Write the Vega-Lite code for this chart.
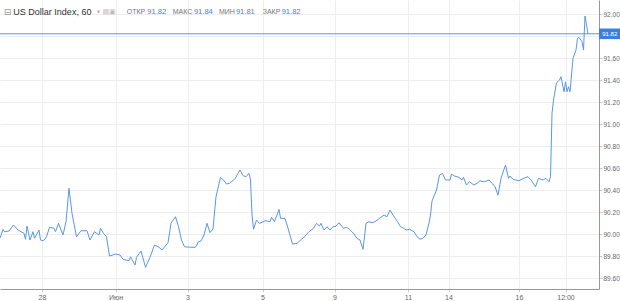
{
  "$schema": "https://vega.github.io/schema/vega-lite/v6.json",
  "width": 599,
  "height": 289,
  "padding": {"left": 0, "top": 0, "right": 21, "bottom": 12},
  "autosize": {"type": "none"},
  "background": "white",
  "config": {
    "view": {"stroke": null},
    "font": "Liberation Sans",
    "axis": {"grid": true, "gridColor": "#eeeeee", "domainColor": "#999999", "tickColor": "#cccccc", "tickSize": 3, "labelColor": "#666666", "labelOverlap": false, "labelBound": false},
    "axisX": {"labelFontSize": 7, "labelPadding": 1},
    "axisY": {"labelFontSize": 6.5, "labelPadding": 1}
  },
  "layer": [
    {
      "data": {"values": [
    {"i":0,"v":89.961},{"i":2,"v":90.042},{"i":3,"v":90.021},{"i":6,"v":90.027},{"i":9,"v":90.082},{"i":12,"v":90.036},{"i":16,"v":90.006},{"i":17,"v":89.952},{"i":18,"v":90.072},{"i":20,"v":89.945},{"i":22,"v":90.021},{"i":23,"v":89.961},{"i":26,"v":90.036},{"i":27,"v":89.945},{"i":29,"v":89.939},{"i":31,"v":89.975},{"i":33,"v":90.061},{"i":36,"v":90.052},{"i":37,"v":90.021},{"i":39,"v":90.097},{"i":42,"v":89.991},{"i":44,"v":90.112},{"i":46,"v":90.415},{"i":48,"v":90.188},{"i":51,"v":89.975},{"i":54,"v":90.03},{"i":58,"v":90.03},{"i":60,"v":89.945},{"i":63,"v":90.021},{"i":66,"v":89.991},{"i":67,"v":90.052},{"i":69,"v":90.006},{"i":71,"v":89.975},{"i":73,"v":89.8},{"i":77,"v":89.818},{"i":80,"v":89.809},{"i":82,"v":89.77},{"i":86,"v":89.757},{"i":87,"v":89.793},{"i":90,"v":89.718},{"i":91,"v":89.788},{"i":94,"v":89.845},{"i":97,"v":89.697},{"i":100,"v":89.788},{"i":103,"v":89.9},{"i":106,"v":89.879},{"i":108,"v":89.854},{"i":112,"v":89.921},{"i":114,"v":90.097},{"i":117,"v":90.157},{"i":119,"v":90.066},{"i":121,"v":89.945},{"i":123,"v":89.884},{"i":127,"v":89.879},{"i":130,"v":89.879},{"i":131,"v":89.891},{"i":132,"v":89.927},{"i":134,"v":89.936},{"i":136,"v":89.991},{"i":138,"v":90.097},{"i":140,"v":90.012},{"i":142,"v":90.045},{"i":144,"v":90.339},{"i":147,"v":90.515},{"i":149,"v":90.491},{"i":151,"v":90.454},{"i":153,"v":90.461},{"i":157,"v":90.506},{"i":158,"v":90.536},{"i":160,"v":90.582},{"i":162,"v":90.53},{"i":164,"v":90.521},{"i":166,"v":90.552},{"i":167,"v":90.491},{"i":168,"v":90.173},{"i":169,"v":90.043},{"i":171,"v":90.127},{"i":173,"v":90.097},{"i":177,"v":90.121},{"i":180,"v":90.112},{"i":181,"v":90.152},{"i":183,"v":90.112},{"i":186,"v":90.224},{"i":187,"v":90.142},{"i":190,"v":90.142},{"i":192,"v":90.052},{"i":195,"v":89.909},{"i":198,"v":89.915},{"i":201,"v":89.952},{"i":202,"v":89.961},{"i":204,"v":89.991},{"i":206,"v":90.021},{"i":209,"v":90.052},{"i":211,"v":90.097},{"i":213,"v":90.072},{"i":214,"v":90.097},{"i":216,"v":90.036},{"i":218,"v":90.066},{"i":220,"v":90.036},{"i":222,"v":90.066},{"i":224,"v":90.072},{"i":226,"v":90.102},{"i":229,"v":90.052},{"i":231,"v":90.061},{"i":233,"v":90.043},{"i":236,"v":90.0},{"i":238,"v":89.961},{"i":240,"v":89.945},{"i":242,"v":89.861},{"i":243,"v":89.975},{"i":244,"v":90.097},{"i":246,"v":90.112},{"i":248,"v":90.102},{"i":250,"v":90.112},{"i":253,"v":90.142},{"i":256,"v":90.172},{"i":258,"v":90.157},{"i":260,"v":90.218},{"i":262,"v":90.172},{"i":265,"v":90.112},{"i":267,"v":90.066},{"i":269,"v":90.052},{"i":271,"v":90.036},{"i":273,"v":90.043},{"i":276,"v":90.021},{"i":278,"v":89.975},{"i":280,"v":89.952},{"i":282,"v":89.961},{"i":284,"v":89.991},{"i":286,"v":90.1},{"i":287,"v":90.172},{"i":288,"v":90.3},{"i":291,"v":90.4},{"i":293,"v":90.536},{"i":295,"v":90.55},{"i":297,"v":90.491},{"i":300,"v":90.491},{"i":301,"v":90.545},{"i":303,"v":90.527},{"i":306,"v":90.515},{"i":308,"v":90.491},{"i":309,"v":90.515},{"i":311,"v":90.445},{"i":313,"v":90.475},{"i":316,"v":90.445},{"i":318,"v":90.461},{"i":320,"v":90.484},{"i":323,"v":90.475},{"i":326,"v":90.491},{"i":328,"v":90.461},{"i":330,"v":90.43},{"i":332,"v":90.354},{"i":334,"v":90.506},{"i":337,"v":90.627},{"i":339,"v":90.506},{"i":340,"v":90.527},{"i":342,"v":90.497},{"i":346,"v":90.484},{"i":349,"v":90.506},{"i":352,"v":90.521},{"i":354,"v":90.491},{"i":357,"v":90.43},{"i":359,"v":90.506},{"i":362,"v":90.491},{"i":364,"v":90.506},{"i":366,"v":90.475},{"i":367,"v":90.521},{"i":368,"v":91.097},{"i":369,"v":91.218},{"i":371,"v":91.375},{"i":373,"v":91.4},{"i":374,"v":91.43},{"i":376,"v":91.293},{"i":377,"v":91.384},{"i":378,"v":91.293},{"i":379,"v":91.339},{"i":380,"v":91.293},{"i":382,"v":91.597},{"i":384,"v":91.672},{"i":385,"v":91.779},{"i":386,"v":91.788},{"i":388,"v":91.748},{"i":389,"v":91.672},{"i":390,"v":91.982},{"i":392,"v":91.82}
      ]},
      "mark": {"type": "line", "color": "#5b95e8", "strokeWidth": 1, "clip": false},
      "encoding": {
        "x": {"field": "i", "type": "quantitative", "scale": {"domain": [0, 399.33], "nice": false, "zero": false},
          "axis": {"title": null, "tickCount": 20, "values": [28, 77, 125, 175, 223, 272, 299, 346, 377],
            "labelExpr": "datum.value == 28 ? '28' : datum.value == 77 ? 'Июн' : datum.value == 125 ? '3' : datum.value == 175 ? '5' : datum.value == 223 ? '9' : datum.value == 272 ? '11' : datum.value == 299 ? '14' : datum.value == 346 ? '16' : '12:00'"}},
        "y": {"field": "v", "type": "quantitative", "scale": {"domain": [89.5, 92.1273], "nice": false, "zero": false},
          "axis": {"title": null, "orient": "right", "tickCount": 20, "values": [89.6, 89.8, 90.0, 90.2, 90.4, 90.6, 90.8, 91.0, 91.2, 91.4, 91.6, 91.8, 92.0],
            "labelExpr": "abs(datum.value - 91.8) < 0.001 ? '' : format(datum.value, '.2f')"}}
      }
    },
    {
      "data": {"values": [{"price": 91.82, "tag": "91.82"}]},
      "layer": [
        {"mark": {"type": "rule", "color": "#5b95e8", "strokeWidth": 1},
         "encoding": {"y": {"field": "price", "type": "quantitative"}}},
        {"mark": {"type": "rect", "color": "#3d7fe0", "clip": false},
         "encoding": {"x": {"datum": 399.33}, "x2": {"datum": 413.33}, "y": {"datum": 91.868}, "y2": {"datum": 91.772}}},
        {"mark": {"type": "text", "color": "white", "fontSize": 6, "align": "center", "baseline": "middle", "clip": false},
         "encoding": {"x": {"datum": 406.5}, "y": {"datum": 91.82}, "text": {"field": "tag"}}}
      ]
    },
    {
      "data": {"values": [{"title": "US Dollar Index, 60", "o": "91.82", "h": "91.84", "l": "91.81", "c": "91.82"}]},
      "encoding": {"y": {"datum": 92.015}},
      "layer": [
        {"mark": {"type": "text", "color": "#999999", "fontSize": 9, "align": "left", "baseline": "middle", "font": "DejaVu Sans"},
         "encoding": {"x": {"datum": 2.5}, "text": {"value": "⊟"}}},
        {"mark": {"type": "text", "color": "#333333", "fontSize": 9, "align": "left", "baseline": "middle"},
         "encoding": {"x": {"datum": 8.9}, "text": {"field": "title"}}},
        {"mark": {"type": "text", "color": "#bbbbbb", "fontSize": 7, "align": "left", "baseline": "middle", "font": "DejaVu Sans"},
         "encoding": {"x": {"datum": 64.5}, "text": {"value": "▾  ▤▣"}}},
        {"mark": {"type": "text", "color": "#777777", "fontSize": 7, "align": "left", "baseline": "middle"},
         "encoding": {"x": {"datum": 84.5}, "text": {"value": "ОТКР"}}},
        {"mark": {"type": "text", "color": "#3d7fe0", "fontSize": 7.5, "align": "left", "baseline": "middle"},
         "encoding": {"x": {"datum": 98.2}, "text": {"field": "o"}}},
        {"mark": {"type": "text", "color": "#777777", "fontSize": 7, "align": "left", "baseline": "middle"},
         "encoding": {"x": {"datum": 115.1}, "text": {"value": "МАКС"}}},
        {"mark": {"type": "text", "color": "#3d7fe0", "fontSize": 7.5, "align": "left", "baseline": "middle"},
         "encoding": {"x": {"datum": 129.3}, "text": {"field": "h"}}},
        {"mark": {"type": "text", "color": "#777777", "fontSize": 7, "align": "left", "baseline": "middle"},
         "encoding": {"x": {"datum": 146}, "text": {"value": "МИН"}}},
        {"mark": {"type": "text", "color": "#3d7fe0", "fontSize": 7.5, "align": "left", "baseline": "middle"},
         "encoding": {"x": {"datum": 157.3}, "text": {"field": "l"}}},
        {"mark": {"type": "text", "color": "#777777", "fontSize": 7, "align": "left", "baseline": "middle"},
         "encoding": {"x": {"datum": 175.1}, "text": {"value": "ЗАКР"}}},
        {"mark": {"type": "text", "color": "#3d7fe0", "fontSize": 7.5, "align": "left", "baseline": "middle"},
         "encoding": {"x": {"datum": 187.8}, "text": {"field": "c"}}}
      ]
    }
  ]
}
